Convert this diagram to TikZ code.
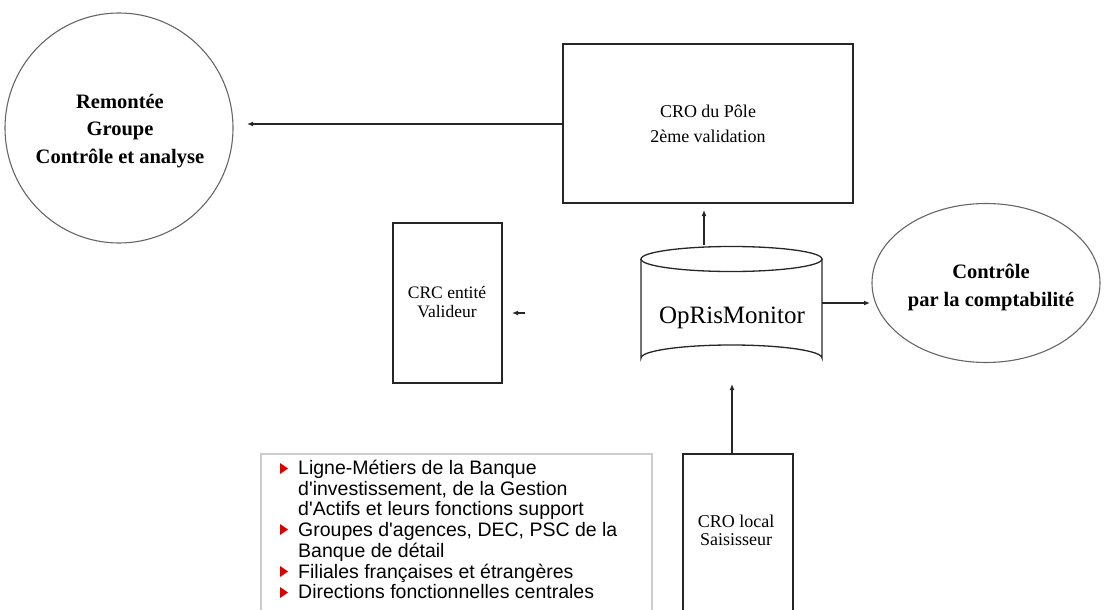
\documentclass[tikz,border=0pt]{standalone}
\usepackage{fontspec}
\setmainfont{Liberation Serif}
\newfontfamily\arialf{Liberation Sans}
\usetikzlibrary{shapes.geometric,arrows.meta}
\begin{document}
\begin{tikzpicture}[x=1pt,y=-1pt,
  boxst/.style={draw=black!85,line width=1.5pt,inner sep=0pt},
  ellst/.style={draw=black!60,line width=1.1pt,ellipse,inner sep=0pt},
  arr/.style={-{Latex[length=6pt,width=5pt]},line width=1.2pt,black!85},
  bul/.style={fill=red!85!black,draw=none},
]
\useasboundingbox (0,0) rectangle (1104,610);
% left circle
\node[ellst,minimum width=228pt,minimum height=230pt] (grp) at (119,128) {};
\node[align=center,font=\bfseries\fontsize{20.5}{27.5}\selectfont] (grpt) at (120,131) {Remontée\\Groupe\\Contrôle et analyse};
% CRO du Pole box
\node[boxst,minimum width=290pt,minimum height=159pt,align=center,font=\fontsize{18}{25}\selectfont] (pole) at (708,123.5) {CRO du Pôle\\2ème validation};
% CRC box
\node[boxst,minimum width=109pt,minimum height=160pt] (crc) at (447.5,303) {};
\node[align=center,font=\fontsize{17.5}{19}\selectfont] (crct) at (447,302) {CRC entité\\Valideur};
% cylinder
\draw[black!85,line width=1.3pt] (641,259) -- (641,358) arc[start angle=180,end angle=360,x radius=90.5,y radius=13] -- (822,259);
\draw[black!85,line width=1.3pt] (731.5,259) ellipse[x radius=90.5,y radius=12.5];
\coordinate (ops) at (731.5,315);
\node[font=\fontsize{25}{27}\selectfont] (opst) at (732,318) {OpRisMonitor};
% right ellipse
\node[ellst,minimum width=228pt,minimum height=159pt] (cpt) at (986,283) {};
\node[align=center,font=\bfseries\fontsize{20.5}{28}\selectfont] (cptt) at (991,287) {Contrôle\\par la comptabilité};
% CRO local box
\draw[black!85,line width=1.5pt] (683,615) -- (683,454) -- (793,454) -- (793,615);
\coordinate (loc) at (732,454);
\node[align=center,font=\fontsize{18}{18}\selectfont] (loct) at (736,530) {CRO local\\Saisisseur};
% text box
\draw[black!20,line width=1.5pt] (261,615) -- (261,454) -- (652,454) -- (652,615);
\node[anchor=north west,align=left,inner sep=0pt,font=\arialf\fontsize{19.5}{20.7}\selectfont] (lst) at (298,460) {Ligne-Métiers de la Banque\\d'investissement, de la Gestion\\d'Actifs et leurs fonctions support\\Groupes d'agences, DEC, PSC de la\\Banque de détail\\Filiales françaises et étrangères\\Directions fonctionnelles centrales};
\foreach \yy in {469,530,572,593} {
  \fill[bul] (280,\yy-6) -- (288,\yy-0.5) -- (280,\yy+5) -- cycle;
}
% arrows
\coordinate (polew) at (563,124);
\coordinate (grpe) at (247,124);
\draw[arr] (polew) -- (grpe);
\coordinate (opstop) at (704,245);
\coordinate (poleb) at (704,210);
\draw[arr] (opstop) -- (poleb);
\coordinate (opse) at (822,303);
\coordinate (cptw) at (870,303);
\draw[arr] (opse) -- (cptw);
\coordinate (opsb) at (732,384);
\draw[arr] (loc) -- (opsb);
\coordinate (crca) at (525,313);
\coordinate (crcb) at (512,313);
\draw[arr] (crca) -- (crcb);
\end{tikzpicture}
\end{document}
